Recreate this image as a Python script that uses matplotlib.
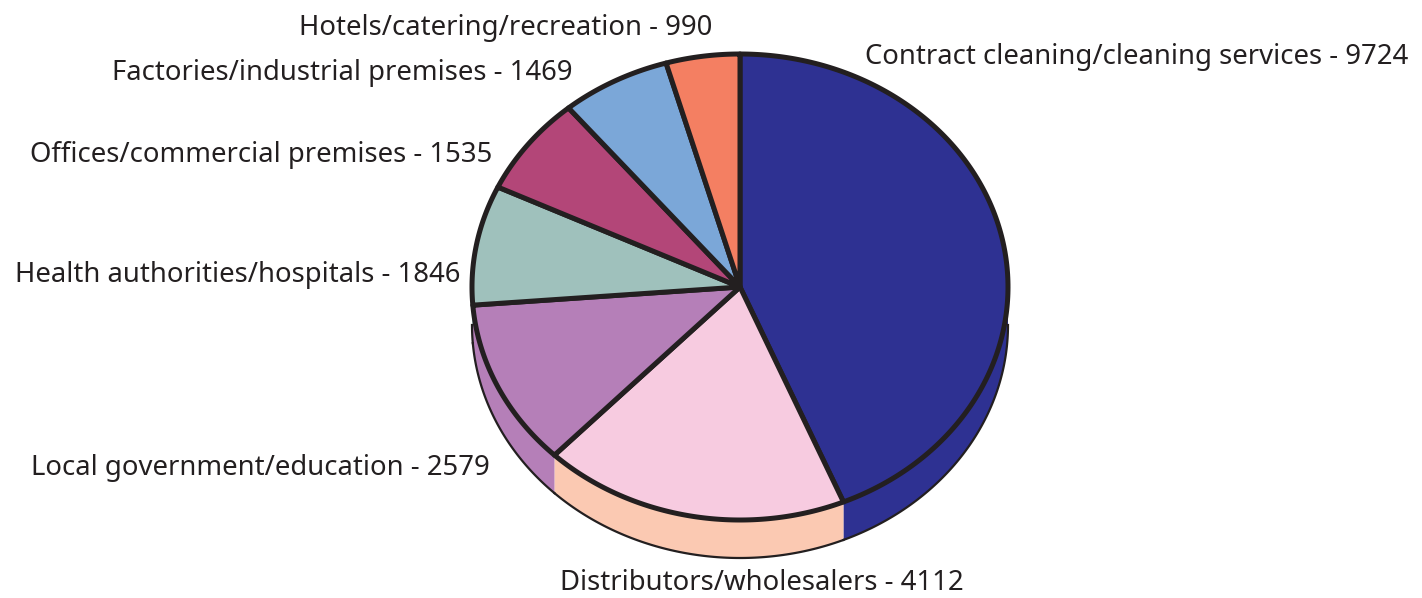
import numpy as np
import matplotlib.pyplot as plt
from matplotlib.patches import Polygon

# data
categories = ["Contract cleaning/cleaning services", "Distributors/wholesalers",
              "Local government/education", "Health authorities/hospitals",
              "Offices/commercial premises", "Factories/industrial premises",
              "Hotels/catering/recreation"]
values = [9724, 4112, 2579, 1846, 1535, 1469, 990]

top_colors = ["#2E3192", "#F7CBE0", "#B57FB8", "#9FC1BC", "#B34678", "#7BA7D8", "#F47F62"]
side_colors = ["#2E3192", "#FBC9B2", "#B57FB8", "#9FC1BC", "#B34678", "#7BA7D8", "#F47F62"]

# label layout (pixel anchors, ha)
label_pos = [(865, 57, "left"), (762, 583, "center"), (490, 468, "right"),
             (460, 275, "right"), (492, 155, "right"), (572, 73, "right"),
             (712, 28, "right")]

# pie geometry in pixels
cx, cy, rx, ry, depth = 740, 287, 268, 233, 38


def pt(theta, dy=0):
    # theta in degrees, clockwise from 12 o'clock
    t = np.radians(theta)
    return cx + rx * np.sin(t), cy - ry * np.cos(t) + dy


fig = plt.figure(figsize=(14.22, 5.98), dpi=100)
ax = fig.add_axes([0, 0, 1, 1])
ax.set_xlim(0, 1422)
ax.set_ylim(598, 0)
ax.axis("off")

fracs = np.array(values) / sum(values) * 360
starts = np.concatenate([[0], np.cumsum(fracs)[:-1]])

# side walls (only the front half, 90..270 deg, is visible)
for a0, f, c in zip(starts, fracs, side_colors):
    lo, hi = max(a0, 90), min(a0 + f, 270)
    if hi <= lo:
        continue
    th = np.linspace(lo, hi, 100)
    x, y = pt(th)
    xb, yb = pt(th, depth)
    poly = np.column_stack([np.concatenate([x, xb[::-1]]), np.concatenate([y, yb[::-1]])])
    ax.add_patch(Polygon(poly, closed=True, facecolor=c, edgecolor="none", zorder=1))
    ax.plot(xb, yb, color="#231F20", lw=1.6, zorder=1.5)

# top face
for a0, f, c in zip(starts, fracs, top_colors):
    th = np.linspace(a0, a0 + f, 200)
    x, y = pt(th)
    poly = np.column_stack([np.concatenate([[cx], x]), np.concatenate([[cy], y])])
    ax.add_patch(Polygon(poly, closed=True, facecolor=c, edgecolor="#231F20",
                         lw=3.6, joinstyle="round", zorder=2))

for name, v, (lx, ly, ha) in zip(categories, values, label_pos):
    ax.text(lx, ly, f"{name} - {v}", ha=ha, va="center", fontsize=19.8,
            family="Noto Sans", color="#231F20")

fig.savefig("out.png", dpi=100)
